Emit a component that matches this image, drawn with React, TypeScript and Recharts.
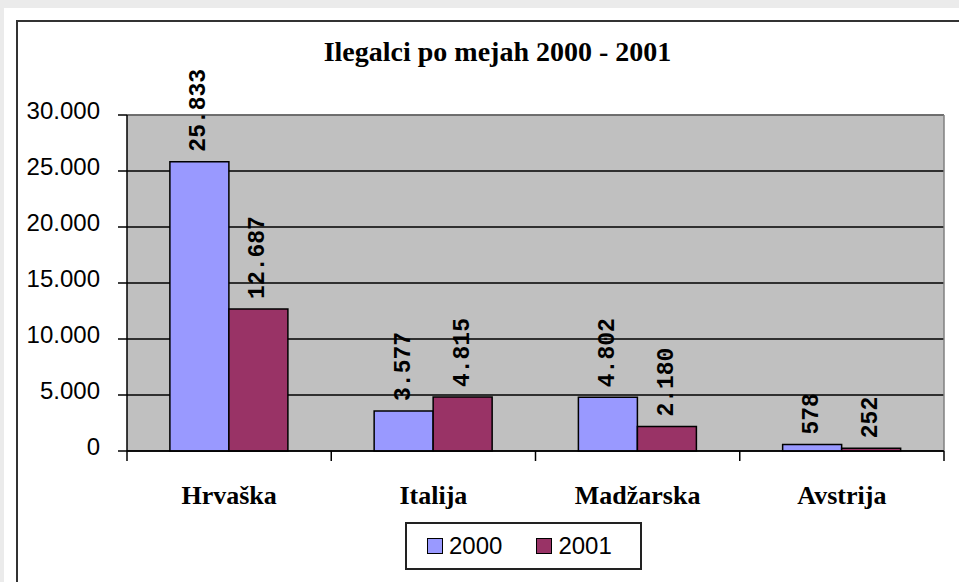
import { BarChart, Bar, XAxis, YAxis, CartesianGrid, Legend, LabelList } from "recharts";

// data
const countries = ["Hrvaška", "Italija", "Madžarska", "Avstrija"];
const values2000 = [25833, 3577, 4802, 578];
const values2001 = [12687, 4815, 2180, 252];
const yTicks = [0, 5000, 10000, 15000, 20000, 25000, 30000];
const seriesNames = ["2000", "2001"];
const seriesColors = ["#9999ff", "#993366"];

const data = countries.map((name, i) => ({
  name,
  y2000: values2000[i],
  y2001: values2001[i],
}));

const W = 959;
const H = 582;
const PLOT_LEFT = 127;
const PLOT_RIGHT = 944;
const BAND = (PLOT_RIGHT - PLOT_LEFT) / countries.length;

const sansNarrow = "'Liberation Sans Narrow', 'Arial Narrow', 'Liberation Sans', Arial, sans-serif";
const serif = "'Liberation Serif', 'Times New Roman', serif";
const mono = "'Liberation Mono', 'Courier New', monospace";

const fmt = (v: number) => String(v).replace(/\B(?=(\d{3})+(?!\d))/g, ".");

function YTick(props: any) {
  const { x, y, payload } = props;
  return (
    <text x={x} y={y} dy={4} textAnchor="end" fontFamily={sansNarrow} fontSize={24} fill="#000">
      {fmt(payload.value)}
    </text>
  );
}

function XTick(props: any) {
  const { x, y, payload, index } = props;
  const last = index === countries.length - 1;
  return (
    <g>
      <line x1={x - BAND / 2} x2={x - BAND / 2} y1={y} y2={y + 10} stroke="#000" strokeWidth={1.5} />
      {last && <line x1={x + BAND / 2} x2={x + BAND / 2} y1={y} y2={y + 10} stroke="#000" strokeWidth={1.5} />}
      <text x={x} y={y + 53} textAnchor="middle" fontFamily={serif} fontWeight="bold" fontSize={26} fill="#000">
        {payload.value}
      </text>
    </g>
  );
}

function BarLabel(props: any) {
  const { x, y, width, value } = props;
  const cx = x + width / 2;
  const ty = y - 10;
  return (
    <text
      x={cx}
      y={ty}
      transform={`rotate(-90 ${cx} ${ty})`}
      textAnchor="start"
      dominantBaseline="central"
      fontFamily={mono}
      fontWeight="bold"
      fontSize={23}
      fill="#000"
    >
      {fmt(value)}
    </text>
  );
}

function LegendBox() {
  return (
    <div
      style={{
        boxSizing: "border-box",
        width: 237,
        height: 48,
        border: "2px solid #222",
        background: "#fff",
        display: "flex",
        alignItems: "center",
        fontFamily: sansNarrow,
        fontSize: 24,
        color: "#000",
      }}
    >
      {seriesNames.map((s, i) => (
        <div key={s} style={{ display: "flex", alignItems: "center", marginLeft: i === 0 ? 20 : 34 }}>
          <span
            style={{
              display: "inline-block",
              width: 14,
              height: 14,
              background: seriesColors[i],
              border: "1.5px solid #000",
              marginRight: 6,
            }}
          />
          {s}
        </div>
      ))}
    </div>
  );
}

export default function App() {
  return (
    <div
      style={{
        position: "fixed",
        left: 0,
        top: 0,
        width: W,
        height: H,
        background: "#ebebeb",
        overflow: "hidden",
      }}
    >
      <div style={{ position: "absolute", left: 4, top: 8, width: 970, height: 600, background: "#fff" }} />
      <div
        style={{
          position: "absolute",
          left: 16,
          top: 20,
          width: 960,
          height: 600,
          border: "2px solid #333",
          boxSizing: "border-box",
        }}
      />
      <div
        style={{
          position: "absolute",
          left: 0,
          top: 32,
          width: 995,
          textAlign: "center",
          fontFamily: serif,
          fontWeight: "bold",
          fontSize: 28,
          color: "#000",
          lineHeight: "40px",
        }}
      >
        Ilegalci po mejah 2000 - 2001
      </div>
      <div style={{ position: "absolute", left: 0, top: 0 }}>
        <BarChart
          width={W}
          height={H}
          data={data}
          margin={{ top: 115, right: W - PLOT_RIGHT, left: PLOT_LEFT - 60, bottom: 43 }}
          barCategoryGap="21%"
          barGap={0}
        >
          <CartesianGrid fill="#c0c0c0" stroke="#000" strokeWidth={1.5} vertical={false} />
          <CartesianGrid
            stroke="#808080"
            strokeWidth={1.5}
            horizontalCoordinatesGenerator={({ offset }: any) => [offset.top]}
            verticalCoordinatesGenerator={({ offset }: any) => [offset.left + offset.width]}
          />
          <XAxis
            dataKey="name"
            height={40}
            tickLine={false}
            tickSize={0}
            tickMargin={0}
            axisLine={{ stroke: "#000", strokeWidth: 1.5 }}
            tick={<XTick />}
            interval={0}
          />
          <YAxis
            width={60}
            domain={[0, 30000]}
            ticks={yTicks}
            tickSize={9}
            tickMargin={18}
            axisLine={{ stroke: "#000", strokeWidth: 1.5 }}
            tickLine={{ stroke: "#000", strokeWidth: 1.5 }}
            tick={<YTick />}
            interval={0}
          />
          <Legend
            content={<LegendBox />}
            wrapperStyle={{ left: 405, top: 522, width: 237, height: 48, bottom: "auto" }}
          />
          <Bar dataKey="y2000" name={seriesNames[0]} fill={seriesColors[0]} stroke="#000" strokeWidth={1.5} isAnimationActive={false}>
            <LabelList dataKey="y2000" content={<BarLabel />} />
          </Bar>
          <Bar dataKey="y2001" name={seriesNames[1]} fill={seriesColors[1]} stroke="#000" strokeWidth={1.5} isAnimationActive={false}>
            <LabelList dataKey="y2001" content={<BarLabel />} />
          </Bar>
        </BarChart>
      </div>
    </div>
  );
}
